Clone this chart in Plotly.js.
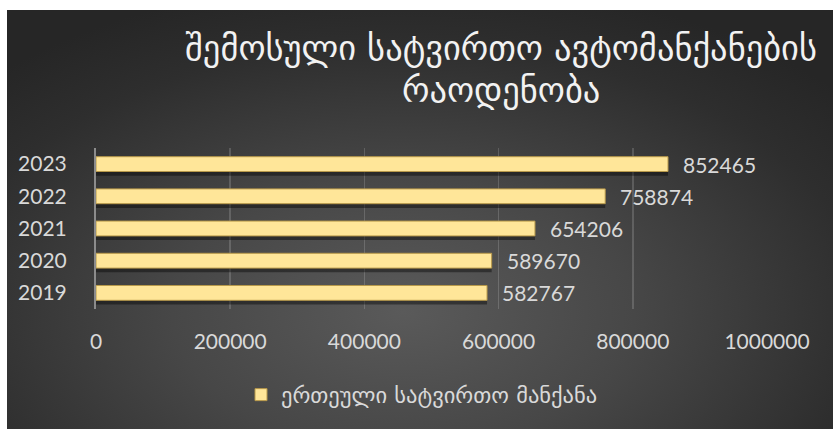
<!DOCTYPE html>
<html>
<head>
<meta charset="utf-8">
<script src="https://cdn.plot.ly/plotly-3.0.1.min.js"></script>
<style>
html,body{margin:0;padding:0;background:#ffffff;}
#wrap{position:relative;width:833px;height:429px;}
#bg{position:absolute;left:7px;top:10px;width:826px;height:419px;
 background:radial-gradient(ellipse 70% 80% at 48% 72%, #5a5a5a 0%, #474747 40%, #2e2e2e 80%, #262626 100%);}
#chart{position:absolute;left:0;top:0;width:833px;height:429px;}
</style>
</head>
<body>
<div id="wrap"><div id="bg"></div><div id="chart"></div></div>
<script>
const years = ['2019', '2020', '2021', '2022', '2023'];
const trucks = [582767, 589670, 654206, 758874, 852465];
const seriesName = 'ერთეული სატვირთო მანქანა';
const titleLines = ['შემოსული სატვირთო ავტომანქანების', 'რაოდენობა'];
const xTicks = [0, 200000, 400000, 600000, 800000, 1000000];

const labelColor = '#d9d9d9';
const font = 'Lato, "DejaVu Sans", sans-serif';
const geoFont = '"DejaVu Sans", sans-serif';

const shadow = {
  type: 'bar', orientation: 'h', y: years, x: trucks,
  width: 0.46, offset: -0.23 - 0.13,
  marker: {color: 'rgba(0,0,0,0.4)'},
  showlegend: false, hoverinfo: 'skip'
};
const main = {
  type: 'bar', orientation: 'h', y: years, x: trucks, name: seriesName,
  width: 0.46,
  marker: {color: '#ffe699', line: {color: '#b8994a', width: 1}},
  hoverinfo: 'x'
};

// category axis annotations use the category index
const valueLabels = trucks.map((v, i) => ({
  x: v, y: years.indexOf(years[i]), xref: 'x', yref: 'y', text: String(v),
  showarrow: false, xanchor: 'left', yanchor: 'middle', xshift: 13,
  font: {family: font, size: 21, color: labelColor}
}));
const titleAnns = titleLines.map((t, i) => ({
  text: t, xref: 'paper', yref: 'paper', showarrow: false,
  x: (501 - 96) / 671, xanchor: 'center',
  y: 1 + (148 - [48, 90][i]) / 161, yanchor: 'middle',
  font: {family: geoFont, size: 34.5, color: '#f2f2f2'}
}));

const layout = {
  width: 833, height: 429,
  margin: {l: 96, r: 66, t: 148, b: 120, pad: 0},
  paper_bgcolor: 'rgba(0,0,0,0)', plot_bgcolor: 'rgba(0,0,0,0)',
  barmode: 'overlay',
  font: {family: font, color: labelColor},
  annotations: titleAnns.concat(valueLabels),
  xaxis: {
    range: [0, 1000000], tickvals: xTicks, ticktext: xTicks.map(String),
    showgrid: true, gridcolor: 'rgba(255,255,255,0.16)', gridwidth: 1.5,
    zeroline: false, showline: false, ticks: '', ticklabelstandoff: 18,
    tickfont: {family: font, size: 21, color: labelColor}, fixedrange: true
  },
  yaxis: {
    type: 'category', categoryorder: 'array', categoryarray: years,
    range: [-0.5, 4.5], showgrid: false, zeroline: false,
    showline: true, linecolor: '#8c8c8c', linewidth: 2, ticks: '',
    ticklabelstandoff: 23, tickfont: {family: font, size: 21, color: labelColor},
    fixedrange: true
  },
  showlegend: true,
  legend: {
    orientation: 'h', xref: 'container', yref: 'container',
    x: 241/833, xanchor: 'left', y: 1 - 395/429, yanchor: 'middle',
    font: {family: geoFont, size: 22.5, color: labelColor},
    bgcolor: 'rgba(0,0,0,0)', itemwidth: 30
  }
};

Plotly.newPlot('chart', [shadow, main], layout, {displayModeBar: false, staticPlot: true});
</script>
</body>
</html>
